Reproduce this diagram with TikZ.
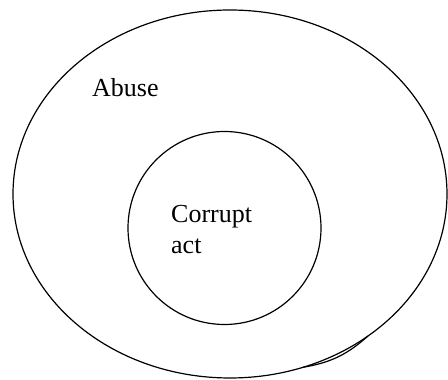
\documentclass[tikz,border=0pt]{standalone}
\usepackage{fontspec}
\setmainfont{Liberation Serif}
\begin{document}
\begin{tikzpicture}[x=1pt,y=1pt,
  outline/.style={draw=black,line width=1.2pt},
  label/.style={font=\fontsize{26}{31}\selectfont,inner sep=0pt,align=left}]
\useasboundingbox (0,0) rectangle (448,380);
\draw[outline] (230,186) ellipse [x radius=217, y radius=184];
\coordinate (tailA) at (303,12.7);
\coordinate (tailB) at (368,44);
\draw[outline] (tailA) to[bend right=16] (tailB);
\draw[outline] (224.5,152) circle [radius=96.5];
\node[label,anchor=base west] (abuse) at (92,283) {Abuse};
\node[label,anchor=base west] (corrupt) at (171,126) {Corrupt\\act};
\end{tikzpicture}
\end{document}
